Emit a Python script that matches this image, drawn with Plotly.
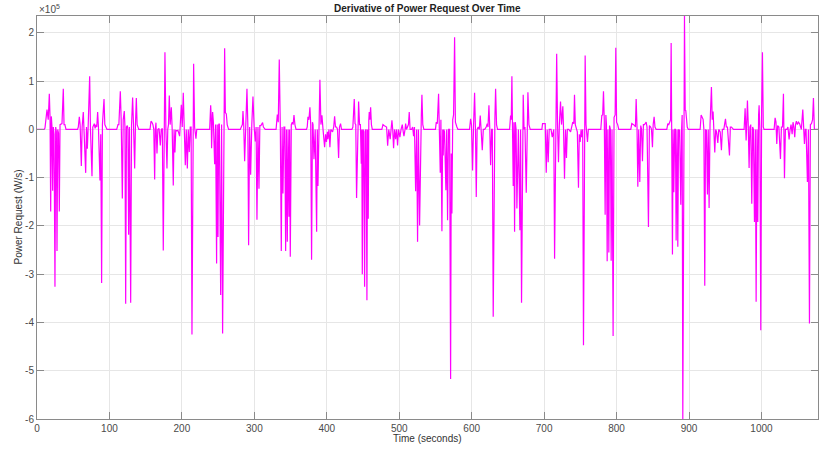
import plotly.graph_objects as go

# Derivative of power request, values in units of 1e5 W/s
SCALE = 1e5

T01 = [0,10,11,13.8,15.5,17,18,18.9,19.8,20.7,21.6,22.5,23.5,24.8,25.8,26.7,27.6,28.6,29.7,30.8,31.8,33.5,34.5,36.3,37.3,38.5,40]
V01 = [0,0,0.03,0.41,0.2,0.74,0.25,-1.7,0.27,0.05,-1.27,0.05,-0.1,-3.26,0.05,-0.05,-2.52,0,-0.08,-1.7,0.1,0.12,0.12,0.84,0.1,0.1,0]
T02 = [56,57,58.4,59.5,61.2,62.3,63.9,65,67.2,68.3,69.5,70.6,72.7,73.8,75.9,77,79.1,80.2,81.5,82.5,83.7,84.8,86.9,88,89.2,90.3,92.5,93.6,95,96.6,110]
V02 = [0,0.05,0.26,0.1,-0.76,0.05,0.36,0,-0.9,0.05,-0.4,0.05,1.1,0,-0.97,0.05,0.12,0.02,0.1,0.05,0.36,0.05,-1.06,-0.1,-3.18,0.1,0.63,0.1,0.05,0,0]
T03 = [111.8,113,115,116.2,117.8,119,120.5,121.4,122.4,123.5,124.7,125.5,126.5,127.6,129.3,130.5,132,133.2,134.8,135.9,137.1,138.2,139.5,140.5,156]
V03 = [0.1,0.1,0.79,0.2,-1.43,0.2,0.38,0.05,-3.61,0.05,0.08,0,-2.18,0.05,-3.59,0.1,0.66,0.1,-0.81,0.1,0.65,0.1,0.05,0,0]
T04 = [157.3,158.5,160,161.2,162.4,163.3,164.2,165.6,166.8,168.5,170.2,171.5,173,174.3,175.4,176.6,177.9,179.4,180.5,181.5,182.6,183.8,185.4,186.6,188.1,189.2,190.4,191.5,193,194.5,196.9,198,199.2,200.5,201.9,203.2,204.7,206,207.5,208.8,210.2,211.5,212.7,213.9,215,216.2,217.5,219.4,220.5,238.3]
V04 = [0.17,0.15,0.1,0,-1.04,0,0.14,-0.5,0,0.02,-0.33,0,0.02,-2.51,0.1,1.6,0,-0.81,0,0.1,0.7,0.1,0.46,0,-1.16,0,-0.48,-0.02,-0.03,-0.02,-0.14,0.1,0.51,0.05,0.76,0.05,-0.74,0,-0.81,0,-0.47,0.05,0.05,-4.25,0.1,1.36,0.05,-0.19,0,0]
T05 = [239.7,240.4,241,241.7,242.4,243.5,245.2,246.5,247.9,248.8,249.8,250.8,251.7,253.5,254.8,256.2,257.5,258.3,259,260,261.3,262.5,264.5,280.6]
V05 = [0.5,0.3,-0.39,0.2,0.36,0.15,-0.72,0.1,-2.78,0.1,-2.23,0.1,0.12,-3.43,0.1,-4.23,0.2,0.3,1.68,0.35,0.32,0.1,0,0]
T06 = [282,283.5,284.3,285.3,286.6,288,289.8,291,292.1,293.5,294.9,296.5,298.1,299.7,301.3,302.4,303.6,305,306.4,307.6,309,311.4,312.5,315,330]
V06 = [0.05,0.1,0.38,0.1,-0.66,0.1,0.84,0.1,-2.4,0.05,-0.94,0.1,0.68,0.05,-0.25,0.05,-1.87,0.05,-1.23,0.08,0.08,0.14,0.05,0,0]
T07 = [331.7,333,334.4,335.8,337.2,338.3,339.5,340.8,342,343.2,344.3,345.5,346.6,347.8,348.7,349.6,351,352.4,353.5,354.7,356,357.5,372]
V07 = [0.31,0.15,1.45,0.1,-2.52,0.05,-1.33,0.05,0.05,-2.52,0,-2.33,0,-1.81,0,-2.64,0.1,0.15,0.1,0.3,0.1,0,0]
T08 = [373,374,375.3,376.7,377.8,379,380.2,381,382.3,384,386,386.9,387.8,389,390.5,391.9,393.3,394.8,397,398.3,399.5,400.8,401.5,403,404.3,405.5,408,409.5,410.8,412,413.5,414.8,416.3,417.5,419,420.3,434.7]
V08 = [0.05,0.26,0.2,0.46,0.1,-2.7,0.15,0.1,-0.62,0,-2.12,0,-1.17,0.1,1.03,0.1,0.29,0,-0.37,-0.1,-0.26,-0.05,-0.2,0,-0.37,0,-0.05,0.05,0.27,0.05,0.05,0,-0.59,0.05,0.12,0,0]
T09 = [436,437.9,439,440,441.1,442.5,443.9,445.2,446.4,447.6,448.3,449,450,451,452.2,453.2,454.3,455.4,456.3,457.2,458,458.6,459.5,460.5,461.6,462.8,476]
V09 = [0.05,0.63,0.12,0.1,-1.42,0.1,0.58,0.1,0.1,-0.71,0,-3.0,0,-0.05,-3.26,-0.02,0,-3.54,0,-1.85,0.2,0.36,0.2,0.46,0.1,0,0]
T10 = [477.5,479,481,482.5,484,485.5,487.5,488.7,489.9,491,492.2,493.5,495,496.3,497.7,499,500.9,502.5,504.2,505.5,506.5,508,508.8,510,511.5,512.7,513.8,515,517,518.5,519.8,521,522.6,524,525.3,526.5,528.1,529.5,530.5,531.3,532.5,534,550]
V10 = [0.1,0.08,0.06,0.05,-0.34,0,-0.2,0,0.19,0,-0.39,0,-0.2,0,-0.33,0,-0.16,0,0.1,-0.05,-0.14,0,0.12,0,0.05,0.1,0.36,0,0,0.05,-0.14,0.05,-1.28,0,-2.33,0,-1.99,0.1,0.3,0.72,0.1,0,0]
T11 = [551.1,552.5,554.3,555.2,556.6,557.5,558.9,560,560.7,561.5,562.5,564.4,565.5,566.7,568,569.5,570.9,571.8,572.7,573.8,575,576.4,577.5,579.6,581,597]
V11 = [0.15,0.12,0.74,0.25,-0.9,0.2,-2.11,0,-0.54,0,-0.05,-1.26,0,-1.88,0,0,-5.17,-0.5,-1.74,0.2,0.3,1.91,0.15,0.05,0,0]
T12 = [598.5,599.7,601.2,602.5,604,605.2,606.3,607.5,609,610.5,611.8,613,614.6,616,618,620,621.5,622.5,623.8,625,626.1,627.5,628.5,629.7,631,632,633,634.3,635.7,652.3]
V12 = [0.22,0.1,-0.85,0.05,0.76,0,-1.4,0,0.05,0,0.29,0,-0.43,0,0,0.05,0.12,0.05,0.5,0,-0.74,0,0,-3.88,0.1,0.2,0.84,0.1,0,0]
T13 = [653.7,654.6,655.5,656.4,657.3,658.3,659.2,660.2,661.3,662.4,663.5,664.5,666.5,667.5,668.8,670,671.1,672.3,673.5,675.3,676.5,677.6,679,680.8,696.9]
V13 = [0.29,0.2,1.1,0.2,-1.17,0.15,-2.12,0.15,0,-1.64,0,0,-2.09,0,-3.59,0.2,0.72,0,0.05,-1.31,0.2,0.77,0.1,0,0]
T14 = [697.8,701.5,702.9,704.2,705.6,707,709.5,711.2,712.5,713.3,714.4,715.7,717.3,718.5,719.8,721,722.6,724,725.8,726.8,728.1,729.5,730.8,732,734,736.5,738,739.5,741,741.9,743,744.5,745.8,747.4,748.5,749.7,751,752,753.2,754.3,755.3,756.6,757.8,759.8,761,778.2]
V14 = [0.12,0.12,-0.9,0,-0.68,0,0,-0.16,0,0,-2.68,0.1,1.57,0.1,-0.68,0.1,0.58,0.1,0.48,0,-1.02,0,-0.59,0,0,-0.05,0.05,0.15,0.12,0.72,0.1,0,-0.05,-1.21,-0.1,-0.26,0,-0.16,0,-4.47,0.1,1.53,0.1,-0.26,0,0]
T15 = [779.6,780.8,781.9,783,784.2,785.2,786,787,788,789.3,790.3,791.5,792.5,793.7,795.2,796.5,798,798.9,800,801.5,803,819.6]
V15 = [0.29,0.3,0.79,0.2,-1.77,0.3,0.1,-2.73,0,-2.55,0.08,0,-2.72,0,-4.28,0.25,0.3,1.69,0.15,0.1,0,0]
T16 = [821,823,825,826,827,828.2,829.3,830.5,832,833.3,834.5,835.7,837,838.5,840.8,842,844,845.3,847,848.2,849.5,850.5,851.8,853,854.6,869.3]
V16 = [0.12,0.1,0.08,0.05,0.63,0.05,-1.19,0,-1.09,0.08,0,-0.66,0.1,0.1,0.15,0.05,-2.02,0.08,0.05,0,-0.37,0.1,0.26,0.05,0,0]
T17 = [870.7,872,873.5,874.5,875.3,876.2,877.1,878,879,880.2,881.2,882.2,883.4,884.5,885.5,887,888.6,889.7,890.5,891.4,892.5,893.7,894.7,895.5,896.5,897.5,899,915.3]
V17 = [0.12,0.1,0.15,0.2,1.79,0.2,-2.59,0,-1.3,0,0,-2.3,0,-2.43,0,-0.02,-1.56,0,0.3,-6.0,0.3,2.35,0.4,0.39,0.22,0.05,0,0]
T18 = [916.7,918,919.4,920.5,921.7,922.8,924,925.4,926.5,927.7,929,930.9,932,933.2,934.3,935.5,936.8,938,939.7,941,943,944.7,946,948,950.3,951.5,953,955.8,957,958.5,961.3,976]
V18 = [0.3,0.25,0.21,0,-3.24,0,-0.02,-1.35,0,-1.63,0.1,0.88,0.2,0.37,0,-0.48,0,-0.05,-0.28,0,-0.05,-0.43,0,0,0.22,0.05,0.05,-0.54,0.05,0.05,0,0]
T19 = [977.4,978.8,980,980.6,981.7,982.9,984,985.2,986.6,987.8,988.8,990.3,991.5,992.6,993.8,994.9,996,996.7,997.8,999,1000.2,1001.3,1002.5,1003.5,1005,1017.4]
V19 = [0.44,-0.23,0.3,0.6,0.1,-0.8,0.05,0.1,-1.54,0.05,0,-1.92,0,-3.57,0,-1.92,0.3,0.5,0,-4.16,0.4,1.6,0.05,0,0,0]
T20 = [1018.8,1020,1021.1,1022.3,1024,1026.2,1027.5,1029,1030.3,1031,1031.7,1033,1035,1036.5,1038.1,1039.5,1040.8,1042.3,1043.5,1044.7,1045.9,1047,1048.2,1049.5,1051,1052.5,1054,1055,1057,1058.2,1059.3,1060.5,1061.5,1063.4,1064.8,1066.2,1067.5,1069,1070.5,1071.7,1073,1078]
V20 = [0.24,0.15,-0.3,0.08,0.05,-0.61,0.05,0.05,0.74,0.05,-1.01,0,0,0.05,-0.21,0,0.1,-0.1,0.15,0.05,-0.16,0.1,0.17,0.1,0.15,0.12,0.05,0,0.41,0,-0.3,0,0,-1.09,0,-4.02,0.1,0.12,0.2,0.65,0,0]

BURSTS = [(T01, V01), (T02, V02), (T03, V03), (T04, V04), (T05, V05), (T06, V06), (T07, V07),
          (T08, V08), (T09, V09), (T10, V10), (T11, V11), (T12, V12), (T13, V13), (T14, V14),
          (T15, V15), (T16, V16), (T17, V17), (T18, V18), (T19, V19), (T20, V20)]

Y_TICKS = [-6, -5, -4, -3, -2, -1, 0, 1, 2]
X_TICKS = [0, 100, 200, 300, 400, 500, 600, 700, 800, 900, 1000]

time, deriv = [], []
for i, (tt, vv) in enumerate(BURSTS):
    if len(tt) != len(vv):
        raise ValueError(f"burst {i+1}: {len(tt)} times vs {len(vv)} values")
    time += tt
    deriv += [v * SCALE for v in vv]

FONT = "Liberation Sans, Arial, Helvetica, sans-serif"
AXCOL = "#8a8a8a"
TXTCOL = "#4a4a4a"

fig = go.Figure(go.Scatter(x=time, y=deriv, mode="lines",
                           line=dict(color="#ff00ff", width=1.2), hoverinfo="x+y"))

fig.update_layout(
    width=819, height=451,
    margin=dict(l=37, r=1, t=16, b=32),
    paper_bgcolor="white", plot_bgcolor="white",
    showlegend=False,
    font=dict(family=FONT, size=10, color=TXTCOL),
)
fig.update_xaxes(
    range=[0, 1078], tickvals=X_TICKS, ticktext=[str(x) for x in X_TICKS],
    ticks="inside", ticklen=7, tickcolor=AXCOL, tickwidth=1,
    showline=True, linecolor=AXCOL, linewidth=1, mirror="ticks",
    showgrid=True, gridcolor="#e6e6e6", gridwidth=1, zeroline=False,
    tickfont=dict(size=10, color=TXTCOL),
)
fig.update_yaxes(
    range=[-6 * SCALE, 2.35 * SCALE], tickvals=[y * SCALE for y in Y_TICKS],
    ticktext=[str(y) for y in Y_TICKS],
    ticks="inside", ticklen=7, tickcolor=AXCOL, tickwidth=1,
    showline=True, linecolor=AXCOL, linewidth=1, mirror="ticks",
    showgrid=True, gridcolor="#e6e6e6", gridwidth=1, zeroline=False,
    tickfont=dict(size=10, color=TXTCOL),
)

fig.add_annotation(text="<b>Derivative of Power Request Over Time</b>", xref="paper", yref="paper",
                   x=0.5, y=1, xanchor="center", yanchor="bottom", yshift=0, showarrow=False,
                   font=dict(family=FONT, size=10, color="#222222"))
fig.add_annotation(text="×10<sup>5</sup>", xref="paper", yref="paper",
                   x=0, y=1, xanchor="left", yanchor="bottom", yshift=-1, showarrow=False,
                   font=dict(family=FONT, size=10, color=TXTCOL))
fig.add_annotation(text="Time (seconds)", xref="paper", yref="paper",
                   x=0.5, y=0, xanchor="center", yanchor="middle", yshift=-19, showarrow=False,
                   font=dict(family=FONT, size=10, color="#333333"))
fig.add_annotation(text="Power Request (W/s)", xref="paper", yref="paper",
                   x=0, y=0.5, xanchor="center", yanchor="middle", xshift=-19, textangle=-90,
                   showarrow=False, font=dict(family=FONT, size=10, color="#333333"))

fig.write_html("out.html")
